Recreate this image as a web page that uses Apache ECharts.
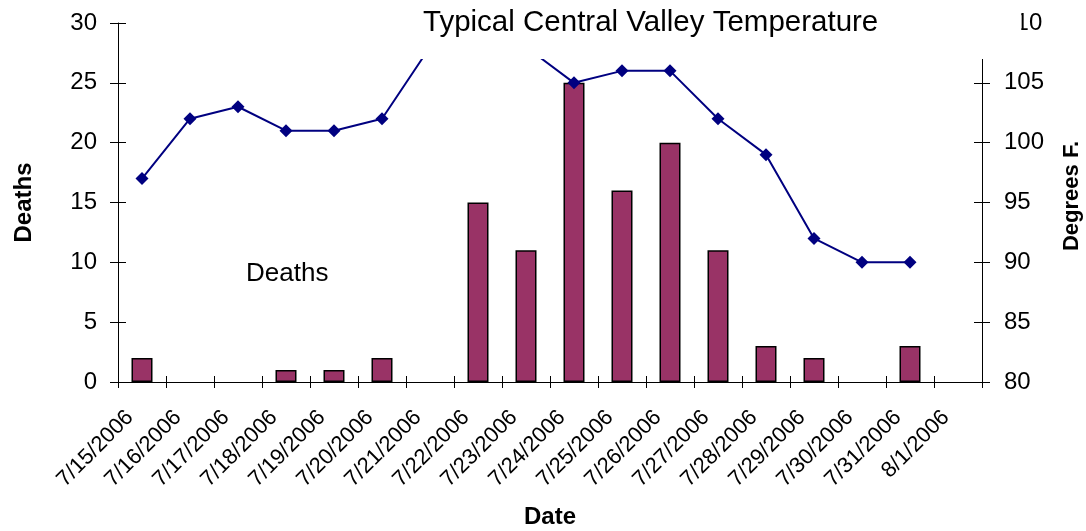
<!DOCTYPE html>
<html>
<head>
<meta charset="utf-8">
<script src="https://cdn.jsdelivr.net/npm/echarts@6/dist/echarts.min.js"></script>
<style>
html,body{margin:0;padding:0;background:#fff;}
#chart{width:1086px;height:531px;}
</style>
</head>
<body>
<div id="chart"></div>
<script>
// ---- data ----
const dates = ['7/15/2006','7/16/2006','7/17/2006','7/18/2006','7/19/2006','7/20/2006',
  '7/21/2006','7/22/2006','7/23/2006','7/24/2006','7/25/2006','7/26/2006','7/27/2006',
  '7/28/2006','7/29/2006','7/30/2006','7/31/2006','8/1/2006'];
const deaths = [2,0,0,1,1,2,0,15,11,25,16,20,11,3,2,0,3,0];
const temperatureF = [97,102,103,101,101,102,108,110,108,105,106,106,102,99,92,90,90,null];
const deathsTicks = [0,5,10,15,20,25,30];
const tempTicks = [80,85,90,95,100,105,110];

const FONT = "'Liberation Sans', Arial, sans-serif";
const chart = echarts.init(document.getElementById('chart'), null, {renderer:'canvas'});

const barData = deaths.map(v => v === 0 ? '-' : v);

function yAxisBase(ticks, pos, opts) {
  return Object.assign({
    type:'value', position:pos,
    min: ticks[0], max: ticks[ticks.length-1], interval: ticks[1]-ticks[0],
    splitLine:{show:false},
    axisLine:{show:true, lineStyle:{color:'#000', width:1}},
  }, opts);
}

const option = {
  animation:false,
  backgroundColor:'#fff',
  title:[
    {
      text:'Typical Central Valley Temperature',
      left:282, top:0,
      padding:[8,143,21,141],
      backgroundColor:'#fff',
      z:10,
      textStyle:{fontFamily:FONT, fontSize:29.5, fontWeight:'normal', color:'#000'}
    },
    {
      text:'Deaths',
      left:246, top:261, padding:0,
      z:10,
      textStyle:{fontFamily:FONT, fontSize:26, fontWeight:'normal', color:'#000'}
    }
  ],
  grid:{left:118, right:104, top:23, bottom:149, containLabel:false, outerBoundsMode:'none'},
  xAxis:[
    {
      type:'category', data:dates, boundaryGap:true, position:'bottom',
      name:'Date', nameLocation:'middle', nameGap:123,
      nameTextStyle:{fontFamily:FONT, fontSize:24, fontWeight:'bold', color:'#000'},
      axisLine:{show:true, lineStyle:{color:'#000', width:1}},
      axisTick:{show:true, inside:false, length:6, interval:0, lineStyle:{color:'#000'}},
      axisLabel:{interval:0, rotate:45, margin:20, padding:[0,17,0,0],
        fontFamily:FONT, fontSize:22, color:'#000'},
      splitLine:{show:false}
    },
    {
      type:'category', data:dates, boundaryGap:true, position:'bottom',
      axisLine:{show:false},
      axisTick:{show:true, inside:true, length:6, interval:0, lineStyle:{color:'#000'}},
      axisLabel:{show:false},
      splitLine:{show:false}
    }
  ],
  yAxis:[
    yAxisBase(deathsTicks, 'left', {
      name:'Deaths', nameLocation:'middle', nameGap:82, nameRotate:90,
      nameTextStyle:{fontFamily:FONT, fontSize:24, fontWeight:'bold', color:'#000'},
      axisTick:{show:true, inside:false, length:8, lineStyle:{color:'#000'}},
      axisLabel:{margin:21, fontFamily:FONT, fontSize:24, color:'#000'}
    }),
    yAxisBase(tempTicks, 'right', {
      name:'Degrees F.', nameLocation:'middle', nameGap:79, nameRotate:90,
      nameTextStyle:{fontFamily:FONT, fontSize:22, fontWeight:'bold', color:'#000', padding:[0,0,0,13]},
      axisTick:{show:true, inside:false, length:8, lineStyle:{color:'#000'}},
      axisLabel:{margin:22, fontFamily:FONT, fontSize:24, color:'#000'}
    }),
    yAxisBase(deathsTicks, 'left', {
      axisLine:{show:false},
      axisTick:{show:true, inside:true, length:8, lineStyle:{color:'#000'}},
      axisLabel:{show:false}
    }),
    yAxisBase(tempTicks, 'right', {
      axisLine:{show:false},
      axisTick:{show:true, inside:true, length:8, lineStyle:{color:'#000'}},
      axisLabel:{show:false}
    })
  ],
  series:[
    {
      name:'Deaths', type:'bar', xAxisIndex:0, yAxisIndex:0,
      data:barData, barWidth:21,
      itemStyle:{color:'#993366', borderColor:'#000', borderWidth:1.5},
      z:2
    },
    {
      name:'Temperature', type:'line', xAxisIndex:0, yAxisIndex:1,
      data:temperatureF,
      symbol:'diamond', symbolSize:13,
      lineStyle:{color:'#000080', width:2},
      itemStyle:{color:'#000080'},
      z:3
    }
  ]
};
chart.setOption(option);
</script>
</body>
</html>
